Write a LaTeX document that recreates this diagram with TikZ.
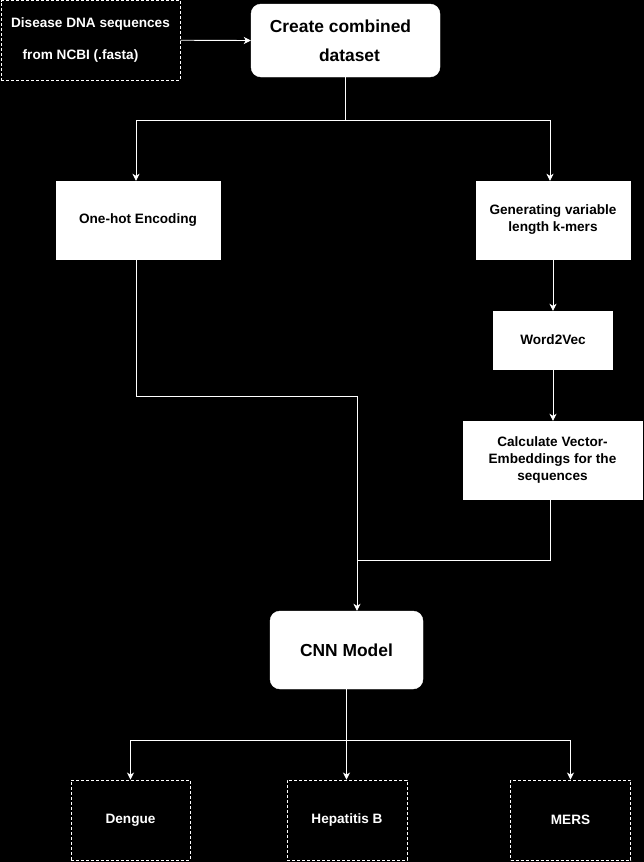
\documentclass[tikz,border=0pt]{standalone}
\usepackage{fontspec}
\setmainfont{Liberation Sans}
\usetikzlibrary{arrows.meta}
\tikzset{
  base/.style={inner sep=0pt, align=center, font=\bfseries\fontsize{13.6}{17}\selectfont},
  dashbox/.style={base, draw=white, dash pattern=on 3pt off 2pt, fill=black, text=white, line width=0.9pt},
  whitebox/.style={base, draw=white, fill=white, text=black},
  roundbox/.style={whitebox, rounded corners=10pt, font=\bfseries\fontsize{17.4}{29}\selectfont},
  conn/.style={draw=white, line width=0.9pt},
  arr/.style={conn, -{Stealth[length=7pt,width=7pt,inset=2pt]}}
}
\begin{document}
\begin{tikzpicture}[x=1pt,y=-1pt]
\fill[black] (0,0) rectangle (644,862);
\useasboundingbox (0,0) rectangle (644,862);

\node[dashbox, minimum width=179pt, minimum height=79.5pt, font=\bfseries\fontsize{13.6}{32}\selectfont] (src) at (90.5,40.25) {Disease DNA sequences\\from NCBI (.fasta)\hspace*{20pt}};
\node[roundbox, minimum width=189pt, minimum height=73pt] (data) at (345.5,40.5) {Create combined\hspace*{10pt}\\\hspace*{8pt}dataset};
\node[whitebox, minimum width=164pt, minimum height=78pt] (onehot) at (138,220) {One-hot Encoding};
\node[whitebox, minimum width=154pt, minimum height=78pt] (gen) at (553,220) {Generating variable\\length k-mers};
\node[whitebox, minimum width=119pt, minimum height=58pt] (w2v) at (553,340) {Word2Vec};
\node[whitebox, minimum width=179pt, minimum height=78pt] (calc) at (552.5,460) {Calculate Vector-\\Embeddings for the\\sequences};
\node[roundbox, minimum width=153pt, minimum height=78pt] (cnn) at (346.5,650) {CNN Model};
\node[dashbox, minimum width=119pt, minimum height=80pt] (dengue) at (130.5,820) {Dengue};
\node[dashbox, minimum width=120pt, minimum height=80pt] (hep) at (347,820) {Hepatitis B};
\node[dashbox, minimum width=120pt, minimum height=80pt] (mers) at (570.5,820) {MERS};

\coordinate (b1) at (136,120);
\coordinate (b2) at (550,120);
\coordinate (m1) at (357,396);
\coordinate (m2) at (357,560);
\coordinate (d1) at (130.5,740);
\coordinate (d2) at (570.5,740);

\draw[arr] (src.east) -- (data.west);
\draw[arr] (data.south) |- (b1) -- (b1 |- onehot.north);
\draw[arr] (data.south) |- (b2) -- (b2 |- gen.north);
\draw[arr] (gen.south) -- (w2v.north);
\draw[arr] (w2v.south) -- (w2v.south |- calc.north);
\draw[arr] (onehot.south -| b1) |- (m1) -- (m1 |- cnn.north);
\draw[conn] (calc.south -| b2) |- (m2);
\draw[arr] (cnn.south) -- (cnn.south |- hep.north);
\draw[arr] (cnn.south |- d1) -- (d1) -- (dengue.north);
\draw[arr] (cnn.south |- d2) -- (d2) -- (mers.north);
\end{tikzpicture}
\end{document}
